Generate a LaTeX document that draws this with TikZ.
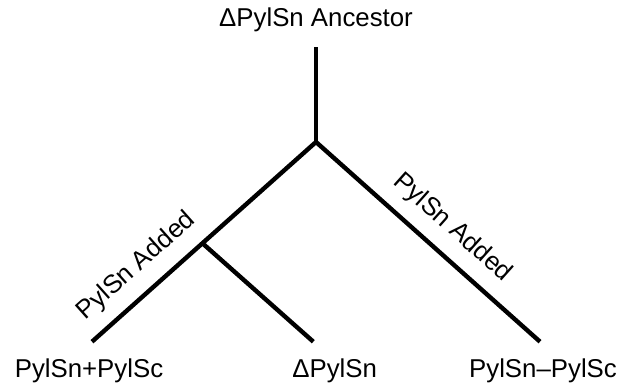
\documentclass[tikz,border=0pt]{standalone}
\usepackage{fontspec}
\setmainfont{Liberation Sans}
\usetikzlibrary{calc}
\begin{document}
\begin{tikzpicture}[x=1pt,y=-1pt,
  branch/.style={line width=4.4pt, line cap=butt, line join=miter},
  lbl/.style={inner sep=0pt, font=\fontsize{25.8}{30}\selectfont},
  edgelbl/.style={lbl, sloped, above=12.5pt}]
\useasboundingbox (0,0) rectangle (632,390);
% tree points
\coordinate (top) at (316,47.5);
\coordinate (J) at (316,142);
\coordinate (L) at (92,341.7);
\coordinate (R) at (540,341.7);
\coordinate (S) at ($(L)!0.493!(J)$);
\coordinate (M) at (313.3,341.7);
% texts
\node[lbl, anchor=base] (anc) at (316,26.5) {ΔPylSn Ancestor};
\node[lbl, anchor=base] (t1) at (89,377) {PylSn+PylSc};
\node[lbl, anchor=base] (t2) at (334.7,377) {ΔPylSn};
\node[lbl, anchor=base] (t3) at (543,377) {PylSn–PylSc};
% branches
\draw[branch] (top) -- (J);
\draw[branch] (L) -- node[edgelbl, pos=0.278] (la) {PylSn Added} (J)
  -- node[edgelbl, pos=0.53] (ra) {PylSn Added} (R);
\draw[branch] (S) -- (M);
\end{tikzpicture}
\end{document}
